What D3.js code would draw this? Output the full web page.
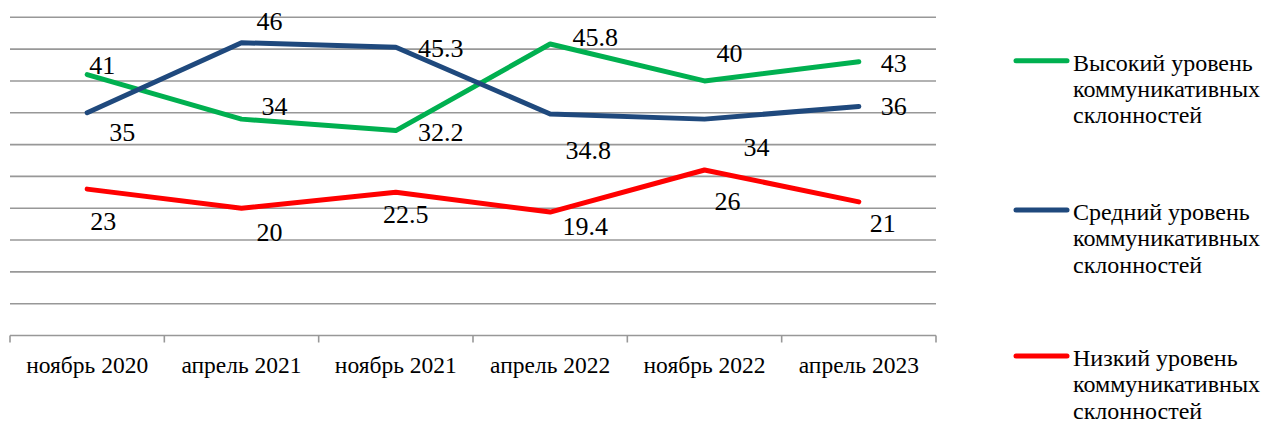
<!DOCTYPE html>
<html>
<head>
<meta charset="utf-8">
<script src="https://cdn.jsdelivr.net/npm/d3@7"></script>
<style>
  html, body { margin: 0; padding: 0; background: #fff; }
  svg { display: block; }
</style>
</head>
<body>
<svg id="chart" width="1265" height="423"></svg>
<script>
// Survey periods
const periods = ["ноябрь 2020", "апрель 2021", "ноябрь 2021", "апрель 2022", "ноябрь 2022", "апрель 2023"];

// Share of respondents (%) by level of communicative inclination
const highLevel = [41, 34, 32.2, 45.8, 40, 43];
const midLevel = [35, 46, 45.3, 34.8, 34, 36];
const lowLevel = [23, 20, 22.5, 19.4, 26, 21];

const seriesNames = [
  ["Высокий уровень", "коммуникативных", "склонностей"],
  ["Средний уровень", "коммуникативных", "склонностей"],
  ["Низкий уровень", "коммуникативных", "склонностей"]
];

const yTicks = [0, 5, 10, 15, 20, 25, 30, 35, 40, 45, 50];

// Hand-placed label offsets (dx, dy of the text baseline-centre from each point)
const labelOffsets = [
  [[15, -1], [33, -4], [45, 10], [45, 2], [25, -19], [35, 10]],
  [[35, 28], [28, -13], [45, 10], [38, 45], [52, 37], [35, 9]],
  [[16, 41], [28, 33], [10, 31], [35, 23], [23, 40], [24, 30]]
];

const colors = ["#00B050", "#1F497D", "#FF0000"];
const serif = "Liberation Serif";

const svg = d3.select("#chart");

const x = d3.scaleBand().domain(periods).range([10, 936]).paddingInner(0).paddingOuter(0);
const y = d3.scaleLinear().domain([0, 50]).range([335.5, 17.3]);

// Horizontal gridlines
svg.append("g")
  .selectAll("line")
  .data(yTicks.slice(1))
  .join("line")
  .attr("x1", 10).attr("x2", 936)
  .attr("y1", d => y(d)).attr("y2", d => y(d))
  .attr("stroke", "#989898")
  .attr("stroke-width", 1.6);

// Category axis with ticks between categories
const xAxis = svg.append("g").attr("transform", `translate(0,${y(0)})`);
xAxis.append("line")
  .attr("x1", 10).attr("x2", 936)
  .attr("stroke", "#989898").attr("stroke-width", 1.6);
const boundaries = periods.map(p => x(p)).concat([x(periods[periods.length - 1]) + x.bandwidth()]);
xAxis.selectAll("line.tick")
  .data(boundaries)
  .join("line")
  .attr("class", "tick")
  .attr("x1", d => d).attr("x2", d => d)
  .attr("y1", 0).attr("y2", 7)
  .attr("stroke", "#989898").attr("stroke-width", 1.6);
xAxis.selectAll("text")
  .data(periods)
  .join("text")
  .attr("x", d => x(d) + x.bandwidth() / 2)
  .attr("y", 37)
  .attr("text-anchor", "middle")
  .attr("font-family", serif)
  .attr("font-size", 23.5)
  .text(d => d);

const series = [highLevel, midLevel, lowLevel];
const cx = i => x(periods[i]) + x.bandwidth() / 2;

const line = d3.line()
  .x((d, i) => cx(i))
  .y(d => y(d));

svg.append("g")
  .selectAll("path")
  .data(series)
  .join("path")
  .attr("d", d => line(d))
  .attr("fill", "none")
  .attr("stroke", (d, i) => colors[i])
  .attr("stroke-width", 5)
  .attr("stroke-linejoin", "round")
  .attr("stroke-linecap", "round");

// Data labels
series.forEach((vals, s) => {
  svg.append("g")
    .selectAll("text")
    .data(vals)
    .join("text")
    .attr("x", (d, i) => cx(i) + labelOffsets[s][i][0])
    .attr("y", (d, i) => y(d) + labelOffsets[s][i][1])
    .attr("text-anchor", "middle")
    .attr("font-family", serif)
    .attr("font-size", 26)
    .text(d => d);
});

// Legend
const legendY = [60.7, 210, 356];
const legend = svg.append("g");
seriesNames.forEach((lines, i) => {
  const g = legend.append("g").attr("transform", `translate(0,${legendY[i]})`);
  g.append("line")
    .attr("x1", 1016).attr("x2", 1067)
    .attr("stroke", colors[i]).attr("stroke-width", 5)
    .attr("stroke-linecap", "round");
  g.append("text")
    .attr("x", 1073)
    .attr("y", 10)
    .attr("font-family", serif)
    .attr("font-size", 24)
    .selectAll("tspan")
    .data(lines)
    .join("tspan")
    .attr("x", 1073)
    .attr("dy", (d, j) => j === 0 ? 0 : 26.3)
    .text(d => d);
});
</script>
</body>
</html>
